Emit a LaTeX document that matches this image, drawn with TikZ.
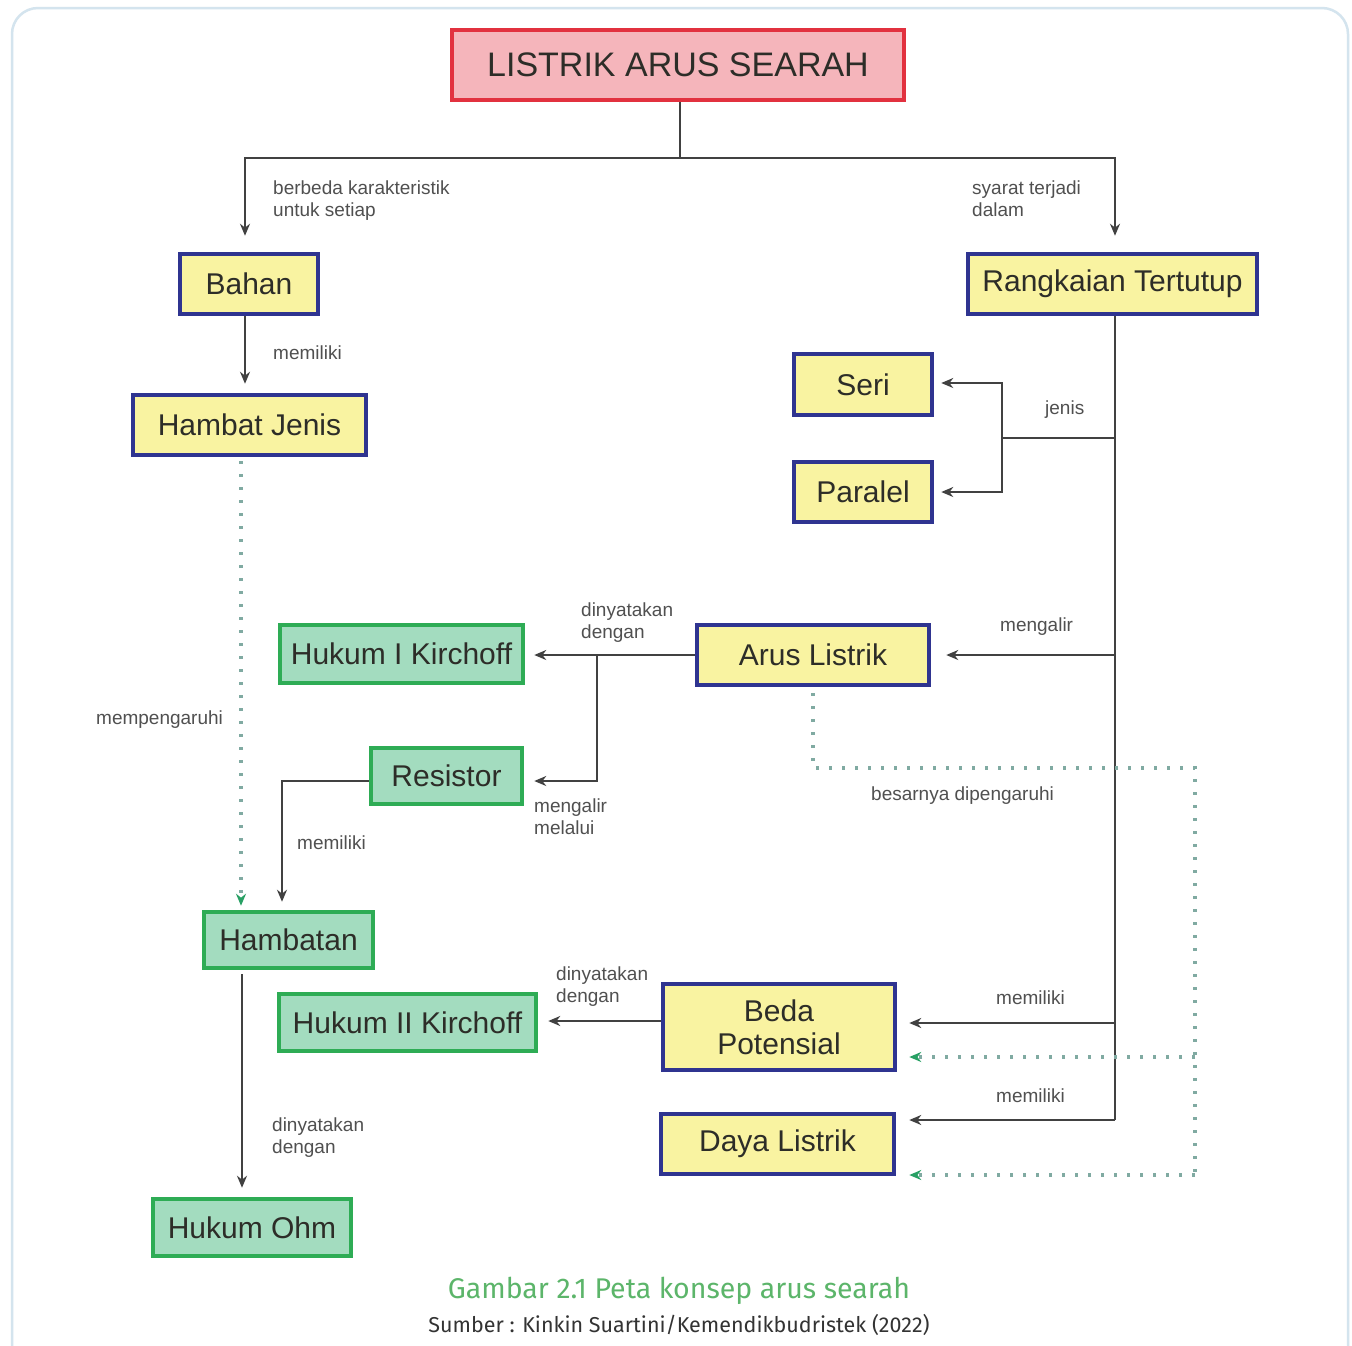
\documentclass[tikz,border=0pt]{standalone}
\usepackage{fontspec}
\setmainfont{Liberation Sans}
\newfontfamily\capfont{Fira Sans}
\usetikzlibrary{arrows.meta}
\definecolor{yfill}{RGB}{249,243,161}
\definecolor{navy}{RGB}{47,52,144}
\definecolor{gfill}{RGB}{163,220,191}
\definecolor{gline}{RGB}{46,172,85}
\definecolor{pfill}{RGB}{245,181,187}
\definecolor{rline}{RGB}{226,49,63}
\definecolor{conn}{RGB}{65,65,65}
\definecolor{lbl}{RGB}{80,80,80}
\definecolor{dotc}{RGB}{128,170,162}
\definecolor{dotarrc}{RGB}{40,160,100}
\definecolor{frame}{RGB}{212,228,238}
\definecolor{capgreen}{RGB}{92,181,106}
\definecolor{txt}{RGB}{45,45,40}
\begin{document}
\begin{tikzpicture}[x=1pt,y=-1pt,
  box/.style={draw, line width=4.5pt, inner sep=0pt, text=txt, align=center,
    font=\fontsize{30}{33}\selectfont},
  ybox/.style={box, fill=yfill, draw=navy},
  gbox/.style={box, fill=gfill, draw=gline},
  arr/.style={draw=conn, line width=2pt, -{Stealth[length=12pt,width=10pt]}},
  ln/.style={draw=conn, line width=2pt},
  dotln/.style={draw=dotc, line width=3.2pt, dash pattern=on 3pt off 10pt},
  dotarr/.style={dotln, -{Stealth[length=12pt,width=10pt,color=dotarrc,sep=0pt]}},
  lab/.style={anchor=north west, inner sep=0pt, align=left, text=lbl,
    font=\fontsize{19}{22}\selectfont}]
\useasboundingbox (0,0) rectangle (1352,1345);
\fill[white] (0,0) rectangle (1352,1345);
\draw[frame, line width=2.5pt, rounded corners=26pt] (12,8) rectangle (1348,1380);

% nodes
\node[box, fill=pfill, draw=rline, minimum width=452pt, minimum height=70pt,
  font=\fontsize{34}{37}\selectfont] (top) at (678,65) {LISTRIK ARUS SEARAH};
\node[ybox, minimum width=138pt, minimum height=60pt] (bahan) at (249,284) {Bahan};
\node[ybox, minimum width=289pt, minimum height=60pt] (rang) at (1112.5,284) {Rangkaian Tertutup};
\node[ybox, minimum width=233pt, minimum height=60pt] (hj) at (249.5,425) {Hambat Jenis};
\node[ybox, minimum width=138pt, minimum height=61pt] (seri) at (863,384.5) {Seri};
\node[ybox, minimum width=138pt, minimum height=60pt] (paralel) at (863,492) {Paralel};
\node[ybox, minimum width=232pt, minimum height=60pt] (arus) at (813,655) {Arus Listrik};
\node[gbox, minimum width=243pt, minimum height=58pt] (hk1) at (401.5,654) {Hukum I Kirchoff};
\node[gbox, minimum width=151pt, minimum height=56pt] (resistor) at (446.5,776) {Resistor};
\node[gbox, minimum width=169pt, minimum height=56pt] (hambatan) at (288.5,940) {Hambatan};
\node[gbox, minimum width=257pt, minimum height=57pt] (hk2) at (407.5,1022.5) {Hukum II Kirchoff};
\node[ybox, minimum width=232pt, minimum height=86pt] (beda) at (779,1027) {Beda\\Potensial};
\node[ybox, minimum width=233pt, minimum height=60pt] (daya) at (777.5,1144) {Daya Listrik};
\node[gbox, minimum width=198pt, minimum height=57pt] (ohm) at (252,1227.5) {Hukum Ohm};

% junction coordinates
\coordinate (jtop) at (680,158);
\coordinate (rbot) at (1115,1120);
\coordinate (jj) at (1002,438);
\coordinate (ja) at (597,654);
\coordinate (dc1) at (813,768);
\coordinate (dc2) at (1195,768);
\coordinate (dr) at (1195,1175);
\coordinate (db) at (1195,1057);

% connectors
\draw[ln] (top.south -| jtop) -- (jtop);
\draw[arr, shorten >=16pt] (jtop) -| ([xshift=-4pt]bahan.north);
\draw[arr, shorten >=16pt] (jtop) -| ([xshift=2.5pt]rang.north);
\draw[arr, shorten >=9pt] ([xshift=-4pt]bahan.south) -- ([xshift=-4.5pt]hj.north);

\draw[ln] (rang.south -| rbot) -- (rbot);
\draw[ln] (rbot |- jj) -- (jj);
\draw[arr, shorten >=7pt] (jj) |- ([yshift=1.5pt]seri.east);
\draw[arr, shorten >=7pt] (jj) |- (paralel.east);
\draw[arr, shorten >=15pt] (rbot |- arus.east) -- (arus.east);
\draw[arr, shorten >=12pt] (rbot |- 0,1023) -- ([yshift=4pt]beda.east);
\draw[arr, shorten >=13pt] (rbot) -- (daya.east |- rbot);

\draw[arr, shorten >=9pt] (arus.west) -- (arus.west -| hk1.east);
\draw[arr, shorten >=10pt] (ja) |- ([yshift=-5pt]resistor.east);
\draw[arr, shorten >=8pt] ([yshift=-5pt]resistor.west) -| ([xshift=-6.5pt]hambatan.north);
\draw[arr, shorten >=9pt] ([xshift=-46.5pt,yshift=-4pt]hambatan.south) -- ([xshift=-10pt]ohm.north);
\draw[arr, shorten >=10pt] ([yshift=6pt]beda.west) -- ([yshift=6pt]beda.west -| hk2.east);

% dotted
\draw[dotarr, shorten >=4pt] ([xshift=-8.5pt,yshift=-4pt]hj.south) -- ([xshift=-47.5pt]hambatan.north);
\draw[dotln] ([yshift=-6pt]arus.south) -- (dc1) -- (dc2) -- (dr);
\draw[dotarr, shorten >=12pt] (db) -- (beda.east |- db);
\draw[dotarr, shorten >=13pt] (dr) -- (daya.east |- dr);

% labels
\node[lab] (l1) at (273,181) {berbeda karakteristik\\untuk setiap};
\node[lab] (l2) at (972,181) {syarat terjadi\\dalam};
\node[lab] (l3) at (273,346) {memiliki};
\node[lab] (l4) at (1045,401) {jenis};
\node[lab] (l5) at (1000,618) {mengalir};
\node[lab] (l6) at (581,603) {dinyatakan\\dengan};
\node[lab] (l7) at (534,799) {mengalir\\melalui};
\node[lab] (l8) at (297,836) {memiliki};
\node[lab] (l9) at (96,711) {mempengaruhi};
\node[lab] (l10) at (871,787) {besarnya dipengaruhi};
\node[lab] (l11) at (556,967) {dinyatakan\\dengan};
\node[lab] (l12) at (996,991) {memiliki};
\node[lab] (l13) at (996,1089) {memiliki};
\node[lab] (l14) at (272,1118) {dinyatakan\\dengan};

% caption
\node[text=capgreen, font=\capfont\fontsize{28.5}{32}\selectfont, inner sep=0pt] (cap) at (679,1291) {Gambar 2.1 Peta konsep arus searah};
\node[text=black!80, font=\capfont\fontsize{21.5}{25}\selectfont, inner sep=0pt] (src) at (679,1325) {Sumber : Kinkin Suartini/Kemendikbudristek (2022)};
\end{tikzpicture}
\end{document}
